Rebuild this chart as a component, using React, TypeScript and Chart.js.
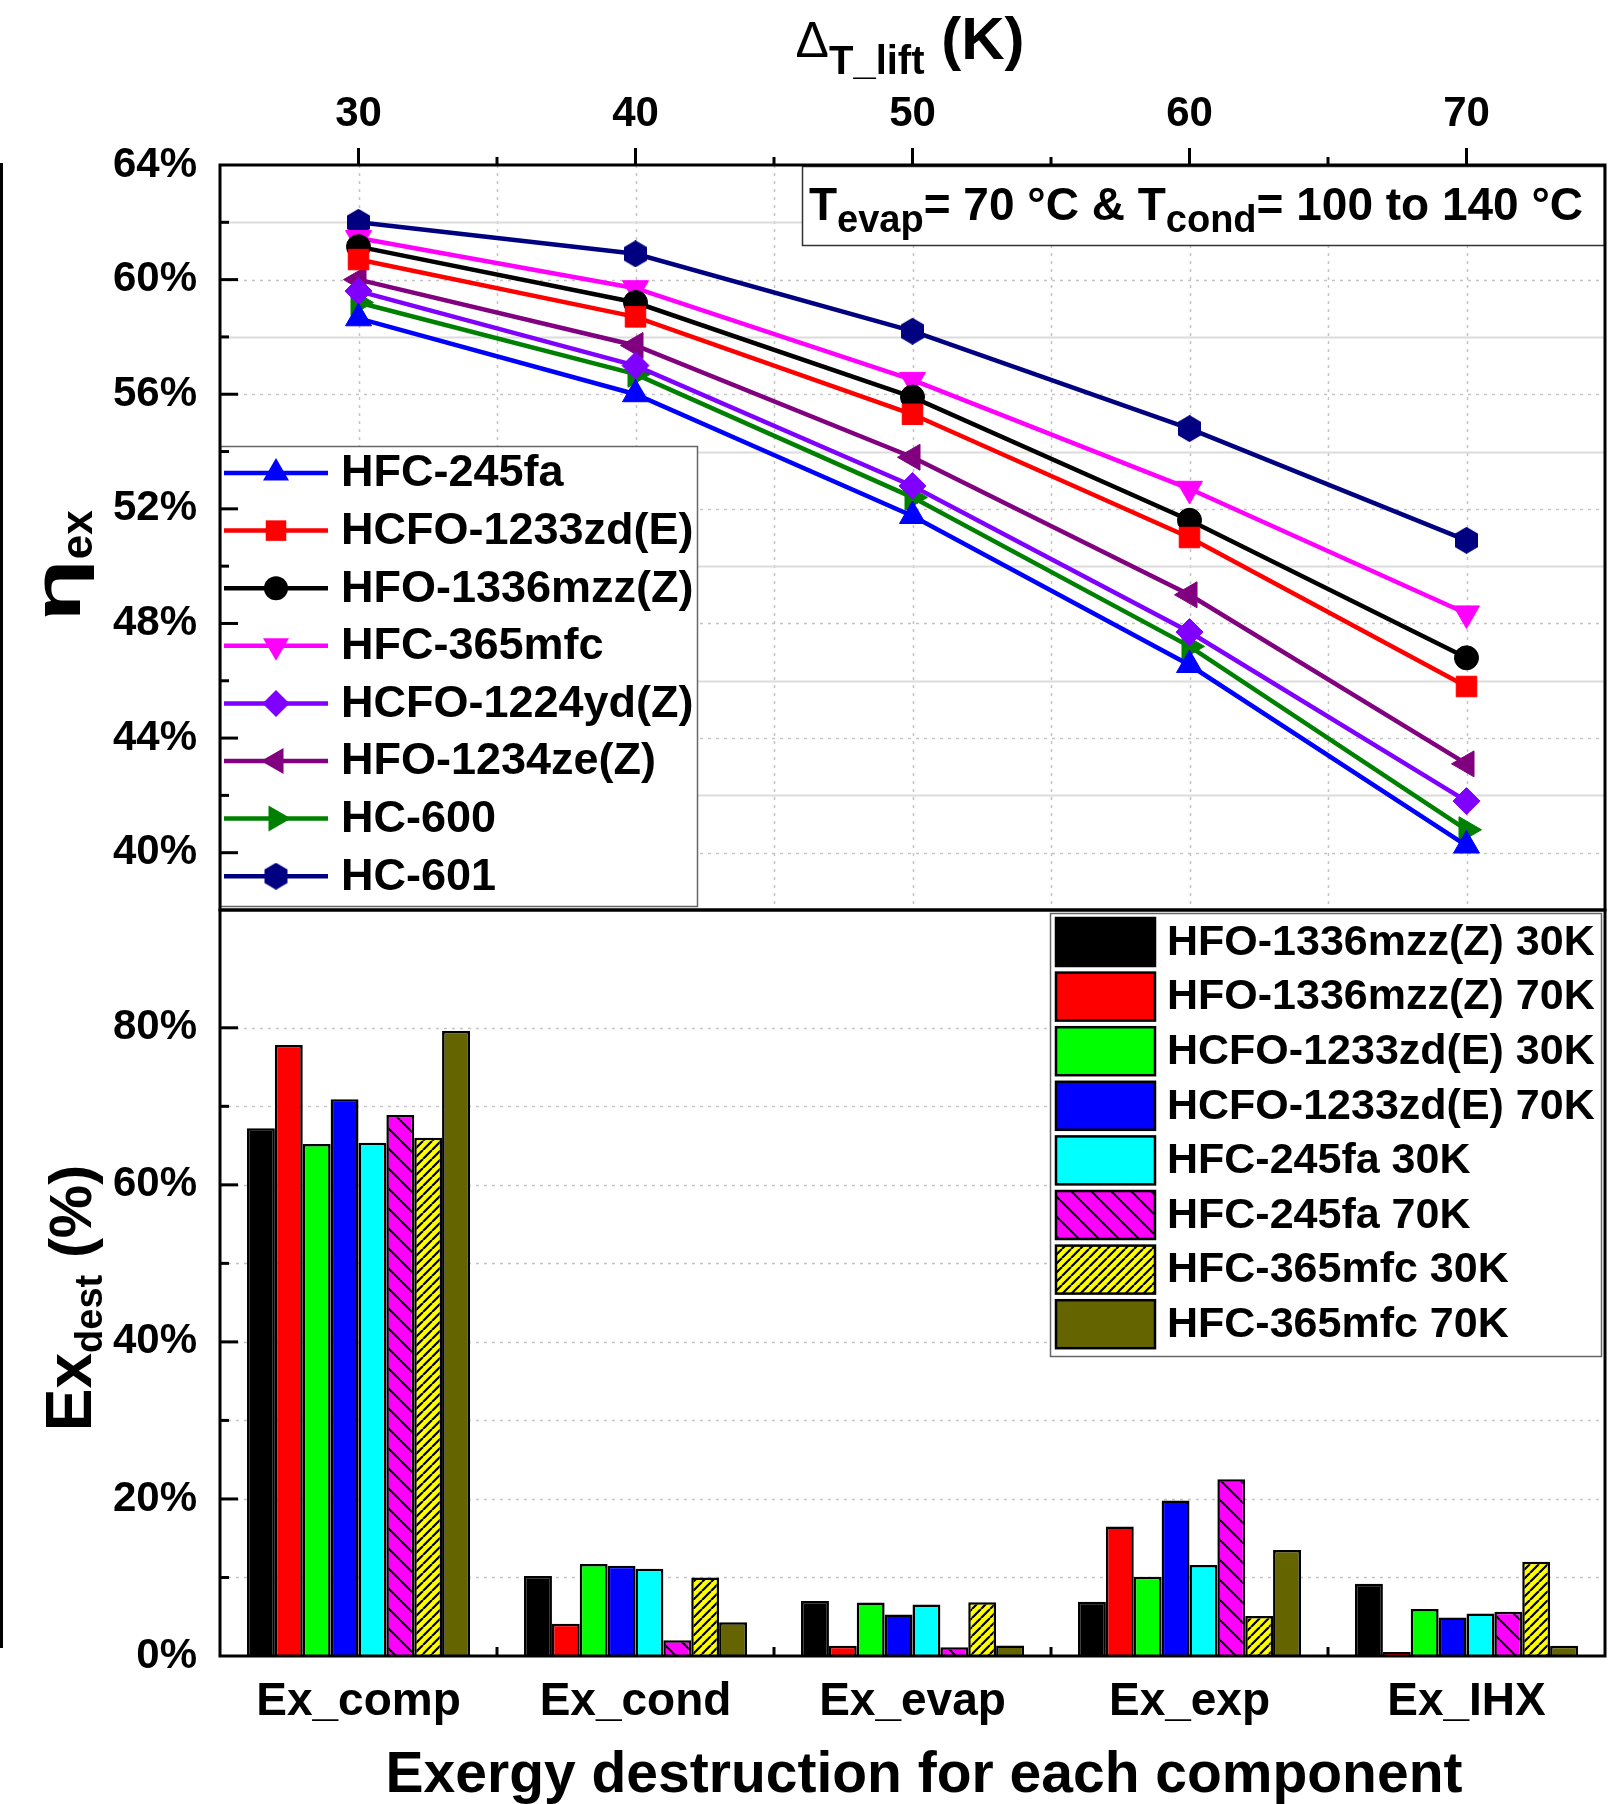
import React, { useEffect, useRef } from 'react';
import { Chart, registerables } from 'chart.js';

Chart.register(...registerables);

const FONT = '"Liberation Sans", Arial, sans-serif';

// ---------- Top panel data: exergy efficiency vs temperature lift ----------
const liftTemps = [30, 40, 50, 60, 70];
const liftTickValues = [30, 35, 40, 45, 50, 55, 60, 65, 70];
const hfc245fa = [58.65, 56.0, 51.75, 46.55, 40.25];
const hcfo1233zdE = [60.7, 58.7, 55.3, 51.0, 45.8];
const hfo1336mzzZ = [61.15, 59.2, 55.9, 51.6, 46.8];
const hfc365mfc = [61.45, 59.7, 56.5, 52.7, 48.35];
const hcfo1224ydZ = [59.6, 57.0, 52.8, 47.7, 41.8];
const hfo1234zeZ = [60.0, 57.7, 53.8, 49.0, 43.1];
const hc600 = [59.2, 56.7, 52.4, 47.2, 40.8];
const hc601 = [62.0, 60.9, 58.2, 54.8, 50.9];

// ---------- Bottom panel data: exergy destruction per component ----------
const components = ['Ex_comp', 'Ex_cond', 'Ex_evap', 'Ex_exp', 'Ex_IHX'];
const r1336mzz30 = [67.2, 10.2, 7.0, 6.9, 9.2];
const r1336mzz70 = [77.8, 4.1, 1.3, 16.5, 0.5];
const r1233zd30 = [65.2, 11.7, 6.8, 10.1, 6.0];
const r1233zd70 = [70.9, 11.5, 5.3, 19.8, 4.9];
const r245fa30 = [65.35, 11.1, 6.55, 11.6, 5.4];
const r245fa70 = [68.9, 2.0, 1.1, 22.5, 5.65];
const r365mfc30 = [66.0, 10.0, 6.85, 5.1, 12.0];
const r365mfc70 = [79.6, 4.3, 1.35, 13.5, 1.3];

const GRID_DOT = '#c4c4c4';
const GRID_SOLID = '#dcdcdc';

type Seg = { t: string; size: number; weight?: string; dy?: number; sx?: number };

function setFont(ctx: CanvasRenderingContext2D, s: Seg) {
  ctx.font = `${s.weight ?? 'bold'} ${s.size}px ${FONT}`;
}
function richWidth(ctx: CanvasRenderingContext2D, segs: Seg[]) {
  let w = 0;
  for (const s of segs) {
    setFont(ctx, s);
    w += ctx.measureText(s.t).width * (s.sx ?? 1);
  }
  return w;
}
function drawRich(ctx: CanvasRenderingContext2D, segs: Seg[], x: number, y: number) {
  let cx = x;
  ctx.textAlign = 'left';
  ctx.textBaseline = 'alphabetic';
  ctx.fillStyle = '#000';
  for (const s of segs) {
    setFont(ctx, s);
    const sx = s.sx ?? 1;
    ctx.save();
    ctx.translate(cx, y + (s.dy ?? 0));
    ctx.scale(sx, 1);
    ctx.fillText(s.t, 0, 0);
    ctx.restore();
    cx += ctx.measureText(s.t).width * sx;
  }
}

function makeHexagon(color: string) {
  const c = document.createElement('canvas');
  c.width = 25;
  c.height = 27;
  const g = c.getContext('2d')!;
  g.fillStyle = color;
  g.beginPath();
  g.moveTo(12.5, 0);
  g.lineTo(24, 6.75);
  g.lineTo(24, 20.25);
  g.lineTo(12.5, 27);
  g.lineTo(1, 20.25);
  g.lineTo(1, 6.75);
  g.closePath();
  g.fill();
  return c;
}

function makeHatch(bg: string, dir: 'back' | 'fwd', s: number, lw: number) {
  const c = document.createElement('canvas');
  c.width = s;
  c.height = s;
  const g = c.getContext('2d')!;
  g.fillStyle = bg;
  g.fillRect(0, 0, s, s);
  g.strokeStyle = '#000';
  g.lineWidth = lw;
  g.beginPath();
  for (const k of [-1, 0, 1]) {
    if (dir === 'back') {
      g.moveTo(k * s, 0);
      g.lineTo(k * s + s, s);
    } else {
      g.moveTo(k * s, s);
      g.lineTo(k * s + s, 0);
    }
  }
  g.stroke();
  return g.createPattern(c, 'repeat')!;
}

type MarkerKind = 'up' | 'down' | 'left' | 'right' | 'square' | 'circle' | 'diamond' | 'hex';

const TRI_R = 15;
const RECT_R = 14.5;
const CIRC_R = 12;
const DIAM_R = 13.5;

function drawMarker(ctx: CanvasRenderingContext2D, kind: MarkerKind, x: number, y: number, color: string, hex?: HTMLCanvasElement) {
  ctx.save();
  ctx.fillStyle = color;
  ctx.beginPath();
  const tri = (rotDeg: number, r: number) => {
    let a = (rotDeg * Math.PI) / 180;
    ctx.moveTo(x + Math.sin(a) * r, y - Math.cos(a) * r);
    a += (2 * Math.PI) / 3;
    ctx.lineTo(x + Math.sin(a) * r, y - Math.cos(a) * r);
    a += (2 * Math.PI) / 3;
    ctx.lineTo(x + Math.sin(a) * r, y - Math.cos(a) * r);
    ctx.closePath();
  };
  switch (kind) {
    case 'up': tri(0, TRI_R); break;
    case 'down': tri(180, TRI_R); break;
    case 'left': tri(-90, TRI_R); break;
    case 'right': tri(90, TRI_R); break;
    case 'square': { const h = RECT_R * Math.SQRT1_2; ctx.rect(x - h, y - h, 2 * h, 2 * h); break; }
    case 'circle': ctx.arc(x, y, CIRC_R, 0, Math.PI * 2); break;
    case 'diamond': ctx.moveTo(x - DIAM_R, y); ctx.lineTo(x, y - DIAM_R); ctx.lineTo(x + DIAM_R, y); ctx.lineTo(x, y + DIAM_R); ctx.closePath(); break;
    case 'hex': if (hex) ctx.drawImage(hex, x - hex.width / 2, y - hex.height / 2); break;
  }
  ctx.fill();
  ctx.restore();
}

function hLine(ctx: CanvasRenderingContext2D, x1: number, x2: number, y: number) {
  ctx.beginPath();
  ctx.moveTo(x1, y);
  ctx.lineTo(x2, y);
  ctx.stroke();
}
function vLine(ctx: CanvasRenderingContext2D, x: number, y1: number, y2: number) {
  ctx.beginPath();
  ctx.moveTo(x, y1);
  ctx.lineTo(x, y2);
  ctx.stroke();
}

const tickFont = { family: FONT, size: 42, weight: 'bold' as const };

function buildTop(canvas: HTMLCanvasElement) {
  const hex = makeHexagon('#000080');
  const series: { label: string; data: number[]; color: string; kind: MarkerKind }[] = [
    { label: 'HFC-245fa', data: hfc245fa, color: '#0000FF', kind: 'up' },
    { label: 'HCFO-1233zd(E)', data: hcfo1233zdE, color: '#FF0000', kind: 'square' },
    { label: 'HFO-1336mzz(Z)', data: hfo1336mzzZ, color: '#000000', kind: 'circle' },
    { label: 'HFC-365mfc', data: hfc365mfc, color: '#FF00FF', kind: 'down' },
    { label: 'HCFO-1224yd(Z)', data: hcfo1224ydZ, color: '#8000FF', kind: 'diamond' },
    { label: 'HFO-1234ze(Z)', data: hfo1234zeZ, color: '#800080', kind: 'left' },
    { label: 'HC-600', data: hc600, color: '#008000', kind: 'right' },
    { label: 'HC-601', data: hc601, color: '#000080', kind: 'hex' },
  ];
  const styleOf = (k: MarkerKind): any => {
    switch (k) {
      case 'up': return { pointStyle: 'triangle', pointRadius: TRI_R, pointRotation: 0 };
      case 'down': return { pointStyle: 'triangle', pointRadius: TRI_R, pointRotation: 180 };
      case 'left': return { pointStyle: 'triangle', pointRadius: TRI_R, pointRotation: -90 };
      case 'right': return { pointStyle: 'triangle', pointRadius: TRI_R, pointRotation: 90 };
      case 'square': return { pointStyle: 'rect', pointRadius: RECT_R };
      case 'circle': return { pointStyle: 'circle', pointRadius: CIRC_R };
      case 'diamond': return { pointStyle: 'rectRot', pointRadius: DIAM_R };
      case 'hex': return { pointStyle: hex, pointRadius: 13 };
    }
  };

  const topDecor = {
    id: 'topDecor',
    beforeDatasetsDraw(chart: any) {
      const { ctx, chartArea: a } = chart;
      const x = chart.scales.x;
      const y = chart.scales.y;
      ctx.save();
      for (const t of x.ticks) {
        const v = t.value;
        if (v <= x.min || v >= x.max) continue;
        const px = Math.round(x.getPixelForValue(v)) + 0.5;
        ctx.lineWidth = 1.5;
        ctx.strokeStyle = GRID_DOT;
        ctx.setLineDash([3, 5]);
        vLine(ctx, px, a.top, a.bottom);
      }
      for (const t of y.ticks) {
        const v = Math.round(t.value);
        if (v <= y.min || v >= y.max) continue;
        const py = Math.round(y.getPixelForValue(v)) + 0.5;
        if ((v - 40) % 4 === 0) {
          ctx.lineWidth = 1.5;
          ctx.strokeStyle = GRID_DOT;
          ctx.setLineDash([3, 5]);
        } else {
          ctx.lineWidth = 2;
          ctx.strokeStyle = GRID_SOLID;
          ctx.setLineDash([]);
        }
        hLine(ctx, a.left, a.right, py);
      }
      ctx.restore();
    },
    afterDatasetsDraw(chart: any) {
      const { ctx } = chart;
      ctx.save();
      // info box
      ctx.fillStyle = '#fff';
      ctx.fillRect(802, 166, 803, 80);
      ctx.strokeStyle = '#333';
      ctx.lineWidth = 1.5;
      ctx.strokeRect(802.5, 166.5, 802, 79);
      drawRich(ctx, [
        { t: 'T', size: 46 },
        { t: 'evap', size: 38, dy: 12 },
        { t: '= 70 °C & T', size: 46 },
        { t: 'cond', size: 38, dy: 12 },
        { t: '= 100 to 140 °C', size: 46 },
      ], 809, 220);
      // legend box
      ctx.fillStyle = '#fff';
      ctx.fillRect(220, 446, 477, 461);
      ctx.strokeStyle = '#666';
      ctx.lineWidth = 1.5;
      ctx.strokeRect(220.5, 446.5, 477, 460);
      series.forEach((s, i) => {
        const cy = 473 + i * 57.6;
        ctx.strokeStyle = s.color;
        ctx.lineWidth = 4.5;
        ctx.setLineDash([]);
        hLine(ctx, 224, 328, cy);
        drawMarker(ctx, s.kind, 276, cy, s.color, hex);
        ctx.fillStyle = '#000';
        ctx.font = `bold 45px ${FONT}`;
        ctx.textAlign = 'left';
        ctx.textBaseline = 'middle';
        ctx.fillText(s.label, 341, cy + 1);
      });
      ctx.restore();
    },
    afterDraw(chart: any) {
      const { ctx, chartArea: a } = chart;
      const x = chart.scales.x;
      const y = chart.scales.y;
      ctx.save();
      ctx.strokeStyle = '#000';
      ctx.setLineDash([]);
      // ticks: left axis inward
      ctx.lineWidth = 3;
      for (const t of y.ticks) {
        const v = Math.round(t.value);
        if (v <= y.min || v >= y.max) continue;
        const py = y.getPixelForValue(v);
        const len = (v - 40) % 4 === 0 ? 18 : 9;
        hLine(ctx, a.left, a.left + len, py);
      }
      // top axis outward
      for (const t of x.ticks) {
        const v = t.value;
        const px = x.getPixelForValue(v);
        const len = v % 10 === 0 ? 17 : 8;
        vLine(ctx, px, a.top - len, a.top);
      }
      // frame
      ctx.lineWidth = 3;
      ctx.strokeRect(a.left, a.top, a.right - a.left, a.bottom - a.top);
      // top title: Delta T_lift (K)
      const segs: Seg[] = [
        { t: 'Δ', size: 50, weight: 'normal' },
        { t: 'T_lift', size: 40, dy: 17 },
        { t: ' (K)', size: 60, dy: 2 },
      ];
      const w = richWidth(ctx, segs);
      drawRich(ctx, segs, 910 - w / 2, 57);
      // y title: eta_ex
      const ySegs: Seg[] = [
        { t: 'η', size: 66, sx: 1.55 },
        { t: 'ex', size: 44, dy: 12 },
      ];
      const yw = richWidth(ctx, ySegs);
      ctx.translate(80, 566);
      ctx.rotate(-Math.PI / 2);
      drawRich(ctx, ySegs, -yw / 2, 0);
      ctx.restore();
    },
  };

  return new Chart(canvas, {
    type: 'line',
    data: {
      datasets: series.map((s) => ({
        label: s.label,
        data: liftTemps.map((t, i) => ({ x: t, y: s.data[i] })),
        borderColor: s.color,
        backgroundColor: s.color,
        pointBackgroundColor: s.color,
        pointBorderColor: s.color,
        pointBorderWidth: 1,
        borderWidth: 4.5,
        tension: 0,
        fill: false,
        ...styleOf(s.kind),
      })),
    },
    options: {
      responsive: false,
      animation: false,
      devicePixelRatio: 1,
      events: [],
      layout: { padding: { left: 0, top: 0, right: 11, bottom: 2 }, autoPadding: false },
      plugins: { legend: { display: false }, tooltip: { enabled: false } },
      scales: {
        x: {
          type: 'linear',
          position: 'top',
          min: 25,
          max: 75,
          afterBuildTicks: (s: any) => {
            s.ticks = liftTickValues.map((v) => ({ value: v }));
          },
          ticks: {
            autoSkip: false,
            maxRotation: 0,
            padding: 17,
            color: '#000',
            font: tickFont,
            callback: (v: any) => (Number(v) % 10 === 0 ? String(v) : ''),
          },
          grid: { display: false },
          border: { display: false },
          afterFit: (s: any) => {
            s.height = 165;
            s.paddingLeft = 0;
            s.paddingRight = 0;
          },
        },
        y: {
          type: 'linear',
          min: 38,
          max: 64,
          ticks: {
            stepSize: 2,
            autoSkip: false,
            padding: 15,
            color: '#000',
            font: tickFont,
            callback: (v: any) => ((Math.round(Number(v)) - 40) % 4 === 0 ? `${v}%` : ''),
          },
          grid: { display: false },
          border: { display: false },
          afterFit: (s: any) => {
            s.width = 220;
            s.paddingTop = 0;
            s.paddingBottom = 0;
          },
        },
      },
    },
    plugins: [topDecor],
  } as any);
}

function buildBottom(canvas: HTMLCanvasElement) {
  const magentaHatch = makeHatch('#FF00FF', 'back', 20, 2);
  const yellowHatch = makeHatch('#FFFF00', 'fwd', 9, 2.2);
  const series: { label: string; data: number[]; fill: any }[] = [
    { label: 'HFO-1336mzz(Z) 30K', data: r1336mzz30, fill: '#000000' },
    { label: 'HFO-1336mzz(Z) 70K', data: r1336mzz70, fill: '#FF0000' },
    { label: 'HCFO-1233zd(E) 30K', data: r1233zd30, fill: '#00FF00' },
    { label: 'HCFO-1233zd(E) 70K', data: r1233zd70, fill: '#0000FF' },
    { label: 'HFC-245fa 30K', data: r245fa30, fill: '#00FFFF' },
    { label: 'HFC-245fa 70K', data: r245fa70, fill: magentaHatch },
    { label: 'HFC-365mfc 30K', data: r365mfc30, fill: yellowHatch },
    { label: 'HFC-365mfc 70K', data: r365mfc70, fill: '#646400' },
  ];

  const botDecor = {
    id: 'botDecor',
    beforeDatasetsDraw(chart: any) {
      const { ctx, chartArea: a } = chart;
      const y = chart.scales.y;
      ctx.save();
      ctx.lineWidth = 1.5;
      ctx.strokeStyle = GRID_DOT;
      ctx.setLineDash([3, 5]);
      for (const t of y.ticks) {
        const v = t.value;
        if (v <= y.min || v >= y.max) continue;
        const py = Math.round(y.getPixelForValue(v)) + 0.5;
        hLine(ctx, a.left, a.right, py);
      }
      ctx.restore();
    },
    afterDatasetsDraw(chart: any) {
      const { ctx } = chart;
      const oy = -880;
      ctx.save();
      ctx.fillStyle = '#fff';
      ctx.fillRect(1050, 913 + oy, 551, 444);
      ctx.strokeStyle = '#666';
      ctx.lineWidth = 1.5;
      ctx.strokeRect(1050.5, 913.5 + oy, 551, 443);
      series.forEach((s, i) => {
        const top = 918 + oy + i * 54.6;
        ctx.fillStyle = s.fill;
        ctx.fillRect(1056, top, 99, 48);
        ctx.strokeStyle = '#000';
        ctx.lineWidth = 2.5;
        ctx.strokeRect(1056, top, 99, 48);
        ctx.fillStyle = '#000';
        ctx.font = `bold 43px ${FONT}`;
        ctx.textAlign = 'left';
        ctx.textBaseline = 'middle';
        ctx.fillText(s.label, 1167, top + 25);
      });
      ctx.restore();
    },
    afterDraw(chart: any) {
      const { ctx, chartArea: a } = chart;
      const x = chart.scales.x;
      const y = chart.scales.y;
      ctx.save();
      ctx.strokeStyle = '#000';
      ctx.lineWidth = 3;
      for (const t of y.ticks) {
        const v = Math.round(t.value);
        if (v <= y.min || v >= y.max) continue;
        const py = y.getPixelForValue(v);
        hLine(ctx, a.left, a.left + (v % 20 === 0 ? 18 : 9), py);
      }
      for (let i = 0; i < components.length - 1; i++) {
        const px = (x.getPixelForValue(i) + x.getPixelForValue(i + 1)) / 2;
        vLine(ctx, px, a.bottom - 9, a.bottom);
      }
      ctx.strokeRect(a.left, a.top, a.right - a.left, a.bottom - a.top);
      // x title
      ctx.fillStyle = '#000';
      ctx.font = `bold 57px ${FONT}`;
      ctx.textAlign = 'center';
      ctx.textBaseline = 'alphabetic';
      ctx.fillText('Exergy destruction for each component', 924, 1792 - 880);
      // y title: Ex_dest (%)
      const segs: Seg[] = [
        { t: 'Ex', size: 64 },
        { t: 'dest', size: 38, dy: 11 },
        { t: ' (%)', size: 60 },
      ];
      const w = richWidth(ctx, segs);
      ctx.translate(91, 1298 - 880);
      ctx.rotate(-Math.PI / 2);
      drawRich(ctx, segs, -w / 2, 0);
      ctx.restore();
    },
  };

  return new Chart(canvas, {
    type: 'bar',
    data: {
      labels: components,
      datasets: series.map((s) => ({
        label: s.label,
        data: s.data,
        backgroundColor: s.fill,
        borderColor: '#000',
        borderWidth: 2.5,
        barPercentage: 1,
        categoryPercentage: 0.805,
      })),
    },
    options: {
      responsive: false,
      animation: false,
      devicePixelRatio: 1,
      events: [],
      layout: { padding: { left: 0, top: 30, right: 11, bottom: 0 }, autoPadding: false },
      plugins: { legend: { display: false }, tooltip: { enabled: false } },
      scales: {
        x: {
          type: 'category',
          ticks: {
            autoSkip: false,
            maxRotation: 0,
            padding: 11,
            color: '#000',
            font: { family: FONT, size: 46, weight: 'bold' },
          },
          grid: { display: false },
          border: { display: false },
          afterFit: (s: any) => {
            s.height = 148;
            s.paddingLeft = 0;
            s.paddingRight = 0;
          },
        },
        y: {
          type: 'linear',
          min: 0,
          max: 95,
          ticks: {
            stepSize: 10,
            autoSkip: false,
            padding: 15,
            color: '#000',
            font: tickFont,
            callback: (v: any) => (Math.round(Number(v)) % 20 === 0 ? `${v}%` : ''),
          },
          grid: { display: false },
          border: { display: false },
          afterFit: (s: any) => {
            s.width = 220;
            s.paddingTop = 0;
            s.paddingBottom = 0;
          },
        },
      },
    },
    plugins: [botDecor],
  } as any);
}

export default function App() {
  const topRef = useRef<HTMLCanvasElement>(null);
  const botRef = useRef<HTMLCanvasElement>(null);
  useEffect(() => {
    const c1 = buildTop(topRef.current!);
    const c2 = buildBottom(botRef.current!);
    return () => {
      c1.destroy();
      c2.destroy();
    };
  }, []);
  return (
    <div style={{ position: 'absolute', left: 0, top: 0, width: 1616, height: 1804, background: '#fff', overflow: 'hidden' }}>
      <div style={{ position: 'absolute', left: 0, top: 163, width: 3, height: 1485, background: '#000' }} />
      <canvas ref={topRef} width={1616} height={912} style={{ position: 'absolute', left: 0, top: 0, width: 1616, height: 912 }} />
      <canvas ref={botRef} width={1616} height={924} style={{ position: 'absolute', left: 0, top: 880, width: 1616, height: 924 }} />
    </div>
  );
}
